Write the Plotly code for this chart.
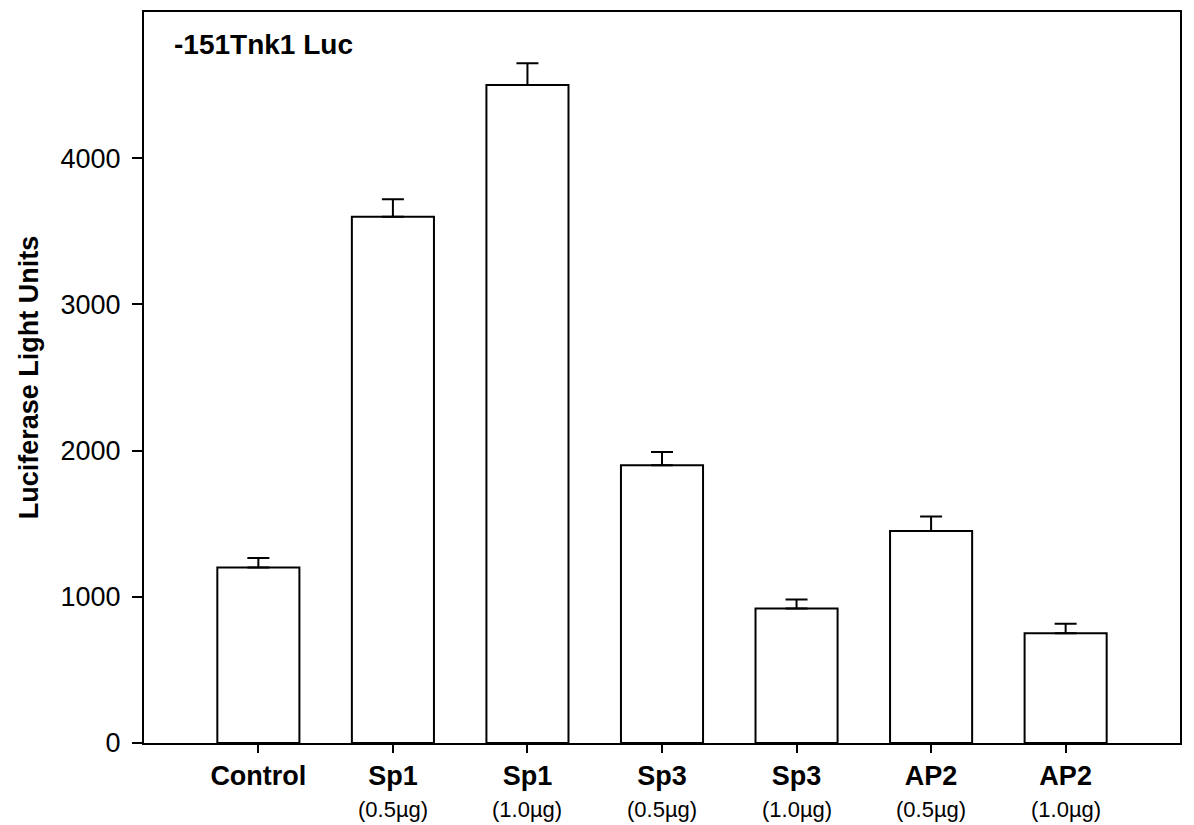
import plotly.graph_objects as go

categories = ["Control", "Sp1", "Sp1", "Sp3", "Sp3", "AP2", "AP2"]
doses = ["", "(0.5µg)", "(1.0µg)", "(0.5µg)", "(1.0µg)", "(0.5µg)", "(1.0µg)"]
values = [1200, 3600, 4500, 1900, 920, 1450, 750]
errors = [65, 120, 150, 90, 62, 100, 65]
y_ticks = [0, 1000, 2000, 3000, 4000]

FONT = "Arial, 'Liberation Sans', sans-serif"
xpos = list(range(len(categories)))

fig = go.Figure()
fig.add_trace(go.Bar(
    x=xpos, y=values, width=0.61,
    marker=dict(color="white", line=dict(color="black", width=2)),
    error_y=dict(type="data", array=errors, arrayminus=[0]*len(errors),
                 symmetric=False, color="black", thickness=2, width=11),
    showlegend=False,
))

# page body has an 8px margin, so the figure is offset by 8px
fig.update_layout(
    width=1186, height=817,
    margin=dict(l=136, r=14, t=2, b=82),
    paper_bgcolor="white", plot_bgcolor="white",
    font=dict(family=FONT, color="black", size=27),
)
fig.update_xaxes(
    range=[-0.85, 6.85], tickmode="array", tickvals=xpos,
    ticktext=["<b>%s</b>" % c for c in categories],
    ticks="outside", ticklen=8, tickwidth=2, tickcolor="black",
    showline=True, linecolor="black", linewidth=2, mirror=True,
    showgrid=False, zeroline=False,
    tickfont=dict(size=27, family=FONT),
)
fig.update_yaxes(
    range=[0, 5000], tickmode="array", tickvals=y_ticks,
    ticks="outside", ticklen=10, tickwidth=2, tickcolor="black",
    showline=True, linecolor="black", linewidth=2, mirror=True,
    showgrid=False, zeroline=False,
    tickfont=dict(size=27, family=FONT),
    title=dict(text="<b>Luciferase Light Units</b>", font=dict(size=27), standoff=14),
    ticklabelstandoff=6,
)

for x, d in zip(xpos, doses):
    if d:
        fig.add_annotation(x=x, xref="x", y=-0.0914, yref="paper", text=d,
                           showarrow=False, font=dict(size=22, family=FONT),
                           xanchor="center", yanchor="middle")

fig.add_annotation(x=0.027, xref="paper", y=0.955, yref="paper",
                   text="<b>-151Tnk1 Luc</b>", showarrow=False,
                   font=dict(size=28, family=FONT), xanchor="left", yanchor="middle")

fig.write_html("out.html")
